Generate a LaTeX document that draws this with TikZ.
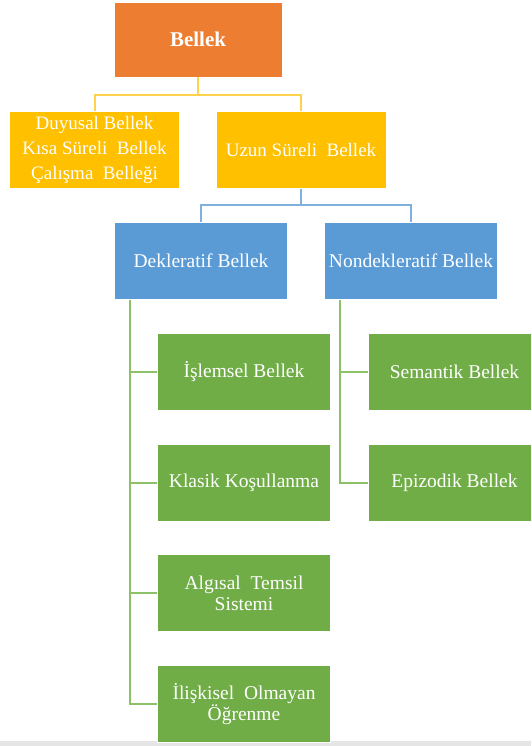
\documentclass[tikz,border=0pt]{standalone}
\usepackage{fontspec}
\setmainfont{Liberation Serif}
\definecolor{corange}{HTML}{ED7D31}
\definecolor{cyellow}{HTML}{FFC000}
\definecolor{cyline}{HTML}{FFD24D}
\definecolor{cblue}{HTML}{5B9BD5}
\definecolor{cbline}{HTML}{7FB0DF}
\definecolor{cgreen}{HTML}{70AD47}
\definecolor{cgline}{HTML}{8CC168}
\begin{document}
\begin{tikzpicture}[x=1pt,y=-1pt,
  box/.style={draw=white, line width=0.6pt, minimum width=170pt, minimum height=77pt,
    inner sep=1pt, text=white, align=center, font=\fontsize{19.5}{21}\selectfont},
  orangebox/.style={box, fill=corange, minimum width=168pt, minimum height=75pt,
    font=\fontsize{21}{24}\selectfont\bfseries},
  yellowbox/.style={box, fill=cyellow, font=\fontsize{19}{25}\selectfont},
  bluebox/.style={box, fill=cblue, minimum width=173pt},
  greenbox/.style={box, fill=cgreen, minimum width=173pt},
  yline/.style={draw=cyline, line width=2pt},
  bline/.style={draw=cbline, line width=2pt},
  gline/.style={draw=cgline, line width=2pt}]
\useasboundingbox (0,0) rectangle (531,746);
\clip (0,0) rectangle (531,746);
\fill[white] (0,0) rectangle (531,746);
\fill[black!10] (0,741) rectangle (531,746);

\node[orangebox] (bellek) at (198,39.5) {Bellek};
\node[yellowbox] (duy) at (94.5,150) {Duyusal Bellek\\Kısa Süreli\ \ Bellek\\Çalışma\ \ Belleği};
\node[yellowbox] (uzun) at (301,150) {Uzun Süreli\ \ Bellek};
\node[bluebox] (dek) at (201,261) {Dekleratif Bellek};
\node[bluebox] (nondek) at (411,261) {Nondekleratif Bellek};

\node[greenbox] (isl) at (244,371.5) {İşlemsel Bellek};
\node[greenbox] (kla) at (244,482.5) {Klasik Koşullanma};
\node[greenbox] (alg) at (244,593) {Algısal\ \ Temsil\\Sistemi};
\node[greenbox] (ilis) at (244,704) {İlişkisel\ \ Olmayan\\Öğrenme};
\node[greenbox] (sem) at (454.5,371.5) {Semantik Bellek};
\node[greenbox] (epi) at (454.5,482.5) {Epizodik Bellek};

\coordinate (ymid) at (198,95);
\draw[yline] (bellek.south) -- (ymid);
\draw[yline] (ymid) -| (duy.north);
\draw[yline] (ymid) -| (uzun.north);

\coordinate (bmid) at (301,205);
\draw[bline] (uzun.south) -- (bmid);
\draw[bline] (bmid) -| (dek.north);
\draw[bline] (bmid) -| (nondek.north);

\coordinate (gl) at ([xshift=16pt]dek.south west);
\coordinate (gr) at ([xshift=16pt]nondek.south west);
\draw[gline] (gl) |- (isl.west);
\draw[gline] (gl) |- (kla.west);
\draw[gline] (gl) |- (alg.west);
\draw[gline] (gl) |- (ilis.west);
\draw[gline] (gr) |- (sem.west);
\draw[gline] (gr) |- (epi.west);
\end{tikzpicture}
\end{document}
